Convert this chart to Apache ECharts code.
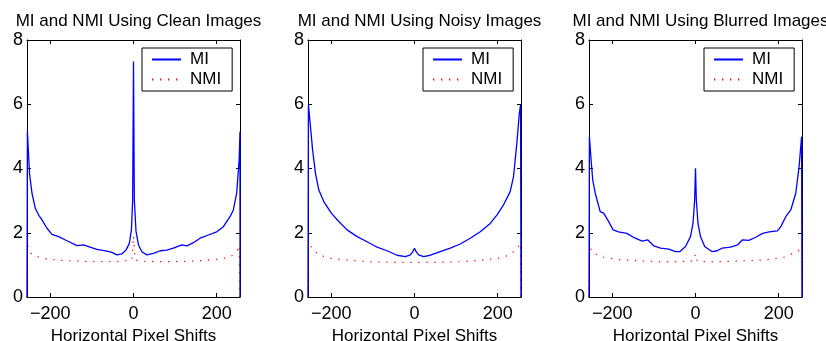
<!DOCTYPE html>
<html>
<head>
<meta charset="utf-8">
<script src="https://cdn.jsdelivr.net/npm/echarts@6/dist/echarts.min.js"></script>
<style>
  html, body { margin: 0; padding: 0; background: #fff; }
  #chart { width: 826px; height: 341px; }
</style>
</head>
<body>
<div id="chart"></div>
<script>
// Panel titles and shared axis settings
const panelTitles = [
  'MI and NMI Using Clean Images',
  'MI and NMI Using Noisy Images',
  'MI and NMI Using Blurred Images'
];
const xAxisName = 'Horizontal Pixel Shifts';
const xTicks = [-200, 0, 200];
const yTicks = [0, 2, 4, 6, 8];
const seriesNames = ['MI', 'NMI'];

// Clean images
const cleanMiShift = [-256, -255, -250, -244, -236, -228, -220, -208, -196, -180, -160, -136, -120, -108, -88, -64, -52, -40, -28, -18, -10, -5, -2, 0,
  2, 6, 12, 20, 32, 48, 64, 80, 96, 116, 128, 144, 160, 180, 200, 216, 232, 240, 248, 254, 256, 256];
const cleanMi = [0, 5.15, 3.85, 3.23, 2.76, 2.55, 2.40, 2.14, 1.95, 1.88, 1.75, 1.60, 1.62, 1.57, 1.48, 1.43, 1.39, 1.31, 1.34, 1.46, 1.67, 2.09, 3.02, 7.33,
  3.02, 2.05, 1.62, 1.41, 1.31, 1.36, 1.44, 1.46, 1.52, 1.62, 1.59, 1.69, 1.83, 1.93, 2.03, 2.19, 2.50, 2.71, 3.23, 4.27, 5.15, 0];
const cleanNmiShift = [-256, -255, -252, -244, -236, -216, -184, -144, -96, -40, -4, 0, 4, 32, 88, 144, 184, 216, 236, 248, 254, 256, 256];
const cleanNmi = [0, 1.67, 1.45, 1.33, 1.28, 1.20, 1.15, 1.12, 1.10, 1.10, 1.15, 1.90, 1.15, 1.10, 1.10, 1.12, 1.15, 1.20, 1.28, 1.41, 1.60, 1.62, 0];

// Noisy images
const noisyMiShift = [-256, -255, -250, -245, -238, -230, -218, -200, -182, -162, -138, -114, -90, -66, -42, -22, -10, -4, 0,
  4, 10, 22, 38, 62, 86, 110, 134, 158, 182, 198, 214, 230, 238, 246, 252, 255, 256];
const noisyMi = [0, 5.98, 5.30, 4.58, 3.85, 3.33, 2.97, 2.61, 2.35, 2.09, 1.88, 1.72, 1.55, 1.44, 1.30, 1.26, 1.31, 1.41, 1.52,
  1.41, 1.31, 1.26, 1.30, 1.41, 1.52, 1.65, 1.83, 2.03, 2.29, 2.55, 2.87, 3.28, 3.75, 4.79, 5.72, 5.98, 0];
const noisyNmiShift = [-256, -255, -247, -230, -200, -162, -114, -58, 0, 58, 114, 162, 200, 230, 247, 255, 256];
const noisyNmi = [0, 1.78, 1.52, 1.31, 1.20, 1.15, 1.10, 1.08, 1.08, 1.08, 1.10, 1.15, 1.20, 1.31, 1.52, 1.67, 0];

// Blurred images
const blurMiShift = [-256, -255, -251, -247, -241, -229, -221, -211, -198, -185, -165, -145, -128, -115, -100, -84, -64, -48, -38, -24, -12, -6, -2, 0,
  2, 6, 12, 22, 40, 52, 64, 84, 101, 113, 128, 145, 161, 177, 197, 205, 217, 229, 241, 249, 255, 256];
const blurMi = [0, 4.99, 4.27, 3.64, 3.23, 2.66, 2.61, 2.40, 2.09, 2.03, 1.98, 1.83, 1.74, 1.78, 1.59, 1.52, 1.49, 1.41, 1.41, 1.57, 1.88, 2.29, 3.02, 4.01,
  3.02, 2.29, 1.88, 1.57, 1.41, 1.44, 1.52, 1.55, 1.62, 1.78, 1.76, 1.86, 1.98, 2.03, 2.06, 2.19, 2.50, 2.71, 3.23, 4.06, 4.99, 0];
const blurNmiShift = [-256, -255, -250, -229, -189, -141, -84, -44, -4, 0, 4, 36, 100, 165, 213, 245, 253, 255, 256];
const blurNmi = [0, 1.62, 1.41, 1.26, 1.17, 1.13, 1.10, 1.10, 1.12, 1.34, 1.12, 1.09, 1.12, 1.15, 1.24, 1.41, 1.50, 1.62, 0];

const panels = [
  { mi: [cleanMiShift, cleanMi], nmi: [cleanNmiShift, cleanNmi] },
  { mi: [noisyMiShift, noisyMi], nmi: [noisyNmiShift, noisyNmi] },
  { mi: [blurMiShift, blurMi], nmi: [blurNmiShift, blurNmi] }
];

const FONT = "'Liberation Sans', Arial, Helvetica, sans-serif";
const plotLefts = [27, 308, 589];
const plotTop = 40, plotW = 213, plotH = 257;

const zip = (xs, ys) => xs.map((x, i) => [x, ys[i]]);

const grid = [], xAxis = [], yAxis = [], series = [], title = [], legend = [];

panels.forEach((p, i) => {
  const left = plotLefts[i];
  grid.push({
    left: left, top: plotTop, width: plotW, height: plotH,
    containLabel: false, outerBoundsMode: 'none'
  });

  title.push({
    text: panelTitles[i],
    left: left + plotW / 2,
    top: 8,
    textAlign: 'center',
    textStyle: { fontFamily: FONT, fontSize: 17, fontWeight: 'normal', color: '#000' }
  });

  // boxed legend: plain line samples, no markers
  legend.push({
    data: seriesNames,
    orient: 'vertical',
    left: left + 115,
    top: 48,
    padding: [3, 11, 3, 9],
    itemWidth: 29,
    itemHeight: 17,
    itemGap: 3,
    borderColor: '#000',
    borderWidth: 1,
    borderRadius: 0,
    backgroundColor: '#fff',
    selectedMode: false,
    itemStyle: { opacity: 0 },
    textStyle: { fontFamily: FONT, fontSize: 17, color: '#000', padding: [0, 0, 0, 4] }
  });

  const axisLine = { show: true, onZero: false, lineStyle: { color: '#000', width: 1 } };
  const tick = { show: true, inside: true, length: 4, lineStyle: { color: '#000' } };

  // bottom and top x axes (top one only carries the frame and ticks)
  xAxis.push({
    type: 'value', gridIndex: i, position: 'bottom', min: -256, max: 256,
    axisLine: axisLine,
    axisTick: Object.assign({ customValues: xTicks }, tick),
    axisLabel: {
      customValues: xTicks, margin: 8, color: '#000', fontFamily: FONT, fontSize: 18,
      formatter: v => (v < 0 ? '\u2212' + Math.abs(v) : String(v))
    },
    splitLine: { show: false },
    name: xAxisName, nameLocation: 'middle', nameGap: 27,
    nameTextStyle: { fontFamily: FONT, fontSize: 17, color: '#000' }
  });
  xAxis.push({
    type: 'value', gridIndex: i, position: 'top', min: -256, max: 256,
    axisLine: axisLine,
    axisTick: Object.assign({ customValues: xTicks }, tick),
    axisLabel: { show: false },
    splitLine: { show: false }
  });

  // left and right y axes
  yAxis.push({
    type: 'value', gridIndex: i, position: 'left', min: 0, max: 8, interval: 2,
    axisLine: axisLine, axisTick: tick,
    axisLabel: { margin: 4, color: '#000', fontFamily: FONT, fontSize: 18 },
    splitLine: { show: false }
  });
  yAxis.push({
    type: 'value', gridIndex: i, position: 'right', min: 0, max: 8, interval: 2,
    axisLine: axisLine, axisTick: tick,
    axisLabel: { show: false },
    splitLine: { show: false }
  });

  series.push({
    name: 'NMI', type: 'line', xAxisIndex: 2 * i, yAxisIndex: 2 * i,
    data: zip(p.nmi[0], p.nmi[1]),
    showSymbol: false, symbol: 'none', silent: true,
    lineStyle: { color: '#ff0000', width: 1.2, type: [1.3, 6.7] },
    itemStyle: { color: '#ff0000' },
    z: 2
  });
  series.push({
    name: 'MI', type: 'line', xAxisIndex: 2 * i, yAxisIndex: 2 * i,
    data: zip(p.mi[0], p.mi[1]),
    showSymbol: false, symbol: 'none', silent: true,
    lineStyle: { color: '#0000ff', width: 1.3 },
    itemStyle: { color: '#0000ff' },
    z: 3
  });
});

const chart = echarts.init(document.getElementById('chart'), null, { renderer: 'canvas' });
chart.setOption({
  animation: false,
  backgroundColor: '#fff',
  textStyle: { fontFamily: FONT },
  title: title,
  legend: legend,
  grid: grid,
  xAxis: xAxis,
  yAxis: yAxis,
  series: series
});
</script>
</body>
</html>
